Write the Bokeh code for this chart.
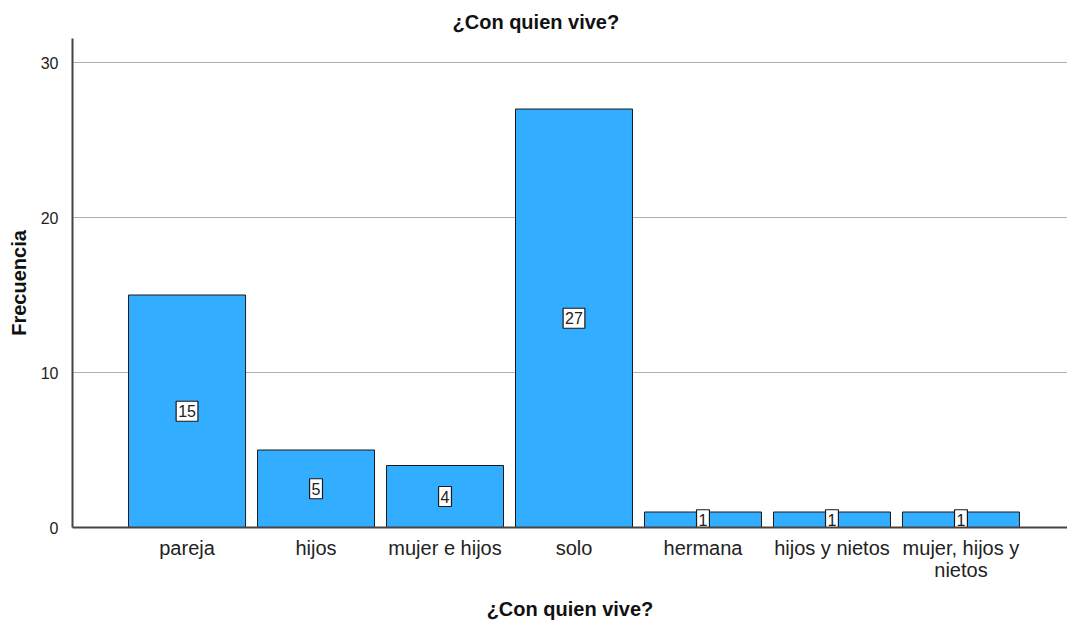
from bokeh.plotting import figure
from bokeh.models import ColumnDataSource, FixedTicker, Range1d, Title
from bokeh.core.properties import value
from bokeh.embed import file_html
from bokeh.resources import INLINE

categories = ["pareja", "hijos", "mujer e hijos", "solo", "hermana",
              "hijos y nietos", "mujer, hijos y\nnietos"]
frecuencia = [15, 5, 4, 27, 1, 1, 1]
y_ticks = [0, 10, 20, 30]

xs = list(range(len(categories)))
source = ColumnDataSource(dict(
    x=xs,
    top=frecuencia,
    mid=[v / 2 for v in frecuencia],
    label=[str(v) for v in frecuencia],
))

FONT = "Liberation Sans"

p = figure(width=1067, height=623, output_backend="svg", toolbar_location=None,
           x_range=Range1d(-0.888, 6.826), y_range=Range1d(0, 31.55),
           min_border_left=72, min_border_right=0, min_border_top=38,
           min_border_bottom=96)
t = Title(text="¿Con quien vive?", align="left", offset=380,
          text_font=FONT, text_font_size="20px", text_font_style="bold",
          text_color="#111111", vertical_align="middle")
p.add_layout(t, "above")

p.outline_line_color = None
p.background_fill_color = "white"
p.border_fill_color = "white"

p.vbar(x="x", top="top", bottom=0, width=117 / 129, source=source,
       fill_color="#33adff", line_color="#1a1a1a", line_width=1)

p.text(x="x", y="mid", text="label", source=source,
       text_align="center", text_baseline="middle",
       text_font=value(FONT), text_font_size="16px", text_color="#222222",
       background_fill_color="white", border_line_color="#1a1a1a",
       border_line_width=1.2,
       padding=dict(left=2, right=2, top=4, bottom=4))

# grid
p.xgrid.grid_line_color = None
p.ygrid.ticker = FixedTicker(ticks=y_ticks)
p.ygrid.grid_line_color = "#b0b0b0"
p.ygrid.grid_line_width = 1

# x axis
xa = p.xaxis[0]
xa.ticker = FixedTicker(ticks=xs)
xa.major_label_overrides = {i: c for i, c in zip(xs, categories)}
xa.axis_label = "¿Con quien vive?"
xa.axis_label_text_font = FONT
xa.axis_label_text_font_size = "20px"
xa.axis_label_text_font_style = "bold"
xa.axis_label_text_color = "#111111"
xa.axis_label_standoff = 14
xa.major_label_text_font = FONT
xa.major_label_text_font_size = "20px"
xa.major_label_text_line_height = 1.02
xa.major_label_text_color = "#222222"
xa.major_label_standoff = 3
xa.major_tick_line_color = None
xa.minor_tick_line_color = None
xa.axis_line_color = "#444444"
xa.axis_line_width = 2

# y axis
ya = p.yaxis[0]
ya.ticker = FixedTicker(ticks=y_ticks)
ya.axis_label = "Frecuencia"
ya.axis_label_text_font = FONT
ya.axis_label_text_font_size = "20px"
ya.axis_label_text_font_style = "bold"
ya.axis_label_text_color = "#111111"
ya.axis_label_standoff = 8
ya.major_label_text_font = FONT
ya.major_label_text_font_size = "16px"
ya.major_label_text_color = "#222222"
ya.major_label_standoff = 8
ya.major_tick_line_color = None
ya.minor_tick_line_color = None
ya.axis_line_color = "#444444"
ya.axis_line_width = 2

open("out.html", "w").write(file_html(p, INLINE))
